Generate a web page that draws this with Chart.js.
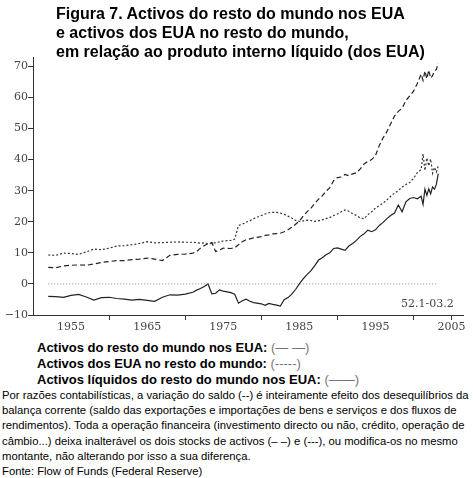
<!DOCTYPE html>
<html>
<head>
<meta charset="utf-8">
<script src="https://cdn.jsdelivr.net/npm/chart.js@4.4.0/dist/chart.umd.min.js"></script>
<style>
  html, body { margin: 0; padding: 0; background: #fff; }
  #wrap { position: relative; width: 473px; height: 478px; overflow: hidden; background: #fff; }
  #c { position: absolute; left: 0; top: 0; }
  .t { position: absolute; white-space: nowrap; }
  #title { left: 56px; top: 4px; font: bold 16px "Liberation Sans", Arial, sans-serif; line-height: 19px; color: #000; }
  #period { left: 401px; top: 297px; font: 11px "DejaVu Serif", serif; color: #444; }
  .leg { left: 37px; font: bold 13px "Liberation Sans", Arial, sans-serif; color: #000; }
  .leg span { font-weight: normal; color: #777; }
  #note { left: 2px; top: 388px; font: 11.3px "Liberation Sans", Arial, sans-serif; line-height: 15.2px; color: #000; }
</style>
</head>
<body>
<div id="wrap">
  <canvas id="c" width="473" height="340"></canvas>
  <div class="t" id="title">Figura 7. Activos do resto do mundo nos EUA<br>e activos dos EUA no resto do mundo,<br>em relação ao produto interno líquido (dos EUA)</div>
  <div class="t" id="period">52.1-03.2</div>
  <div class="t leg" style="top:340px">Activos do resto do mundo nos EUA: <span>(— —)</span></div>
  <div class="t leg" style="top:356px">Activos dos EUA no resto do mundo: <span>(-----)</span></div>
  <div class="t leg" style="top:372px">Activos líquidos do resto do mundo nos EUA: <span>(——)</span></div>
  <div class="t" id="note">Por razões contabilísticas, a variação do saldo (--) é inteiramente efeito dos desequilíbrios da<br>balança corrente (saldo das exportações e importações de bens e serviços e dos fluxos de<br>rendimentos). Toda a operação financeira (investimento directo ou não, crédito, operação de<br>câmbio...) deixa inalterável os dois stocks de activos (– –) e (---), ou modifica-os no mesmo<br>montante, não alterando por isso a sua diferença.<br>Fonte: Flow of Funds (Federal Reserve)</div>
</div>
<script>
// Time points (years, quarterly data sampled)
const years = [1952,1953,1954,1955,1956,1957,1958,1959,1960,1961,1962,1963,1964,1965,1966,1967,1968,1969,1970,1971,1971.5,1972,1972.5,1973,1973.5,1974,1974.5,1975,1976,1976.5,1977,1977.5,1978,1978.5,1979,1980,1980.5,1981,1981.5,1982,1982.5,1983,1983.5,1984,1984.5,1985,1985.5,1986,1986.5,1987,1987.5,1988,1988.5,1989,1989.5,1990,1990.5,1991,1991.5,1992,1992.5,1993,1993.5,1994,1994.5,1995,1995.5,1996,1996.5,1997,1997.5,1998,1998.5,1999,1999.5,2000,2000.5,2001,2001.25,2001.5,2001.75,2002,2002.25,2002.5,2002.75,2003,2003.25];

// Activos do resto do mundo nos EUA (dashed)
const foreignInUS = [5.3,5.2,5.8,6.0,6.1,6.0,6.4,6.9,7.2,7.5,7.5,7.8,8.0,8.3,8.0,7.5,9.2,9.5,9.6,9.9,10.4,11.5,12.3,13.0,13.3,10.4,10.9,11.5,11.4,11.6,12.6,13.6,14.2,14.5,14.8,15.2,15.6,15.8,16.1,16.2,16.3,16.8,17.4,18.2,19.2,20.2,21.8,23.2,24.3,25.8,27.2,28.3,29.8,31.0,33.2,34.2,34.4,35.2,34.8,35.4,35.8,37.0,38.6,39.4,40.0,41.3,44.5,47.0,49.0,51.5,54.0,55.5,56.5,59.0,60.5,62.0,64.5,67.5,65.5,68.5,66.0,68.8,66.2,67.0,68.5,69.0,71.0];

// Activos dos EUA no resto do mundo (dotted)
const usAbroad = [9.3,9.2,9.9,9.8,9.5,10.3,11.2,11.0,11.5,12.2,12.3,12.6,13.0,13.6,13.2,13.3,13.4,13.5,13.4,13.4,13.3,13.1,13.2,12.9,13.0,13.3,13.5,13.8,14.0,14.4,18.8,19.2,19.8,20.3,21.0,22.0,22.5,22.9,23.0,23.0,22.8,22.4,21.8,21.2,20.4,20.1,20.3,20.5,20.4,20.1,20.3,20.6,21.0,21.4,22.0,22.5,23.2,23.8,23.4,22.6,22.0,21.2,21.0,22.3,23.2,24.4,25.2,26.0,27.0,28.2,29.2,30.0,31.2,32.0,32.6,34.0,35.8,36.8,41.8,36.5,40.5,38.0,40.2,35.6,37.5,36.0,38.0];

// Activos líquidos do resto do mundo nos EUA (solid)
const netPosition = [-4.0,-4.1,-4.3,-3.7,-3.4,-4.2,-5.2,-4.4,-4.3,-4.7,-4.9,-5.2,-5.0,-5.3,-5.6,-4.3,-3.5,-3.6,-3.3,-2.7,-2.0,-1.5,-0.8,0.0,-3.2,-3.0,-1.9,-2.3,-2.8,-3.3,-6.2,-5.4,-4.9,-5.6,-6.0,-6.4,-6.9,-6.3,-6.6,-6.8,-7.1,-5.1,-4.4,-3.3,-1.8,0.0,1.6,3.0,4.2,5.8,7.6,8.4,9.4,10.0,11.4,11.6,11.2,10.8,12.2,13.0,14.0,15.3,16.1,17.3,16.8,17.4,18.8,19.8,21.0,22.0,22.8,25.4,23.2,26.4,27.5,27.8,27.4,28.2,25.6,30.5,28.5,30.6,29.0,31.2,30.5,32.0,35.5];

// Zero reference line
const zeroYears = [1952, 2003.25];
const zeroValues = [0, 0];

// Axis ticks
const xTickYears = [1955,1960,1965,1970,1975,1980,1985,1990,1995,2000,2005];
const xLabelYears = [1955,1965,1975,1985,1995,2005];
const xMarkYears = [1960,1970,1980,1990,2000,2005];
const yTicks = [-10,0,10,20,30,40,50,60,70];

const pts = (xs, ys) => xs.map((x, i) => ({ x: x, y: ys[i] }));
const tickFont = { family: "DejaVu Serif", size: 11 };

new Chart(document.getElementById('c'), {
  type: 'line',
  data: {
    datasets: [
      { data: pts(zeroYears, zeroValues), borderColor: '#8a8a8a', borderWidth: 1, borderDash: [1, 2], pointRadius: 0 },
      { data: pts(years, usAbroad), borderColor: '#333', borderWidth: 1.2, borderDash: [2, 2], pointRadius: 0 },
      { data: pts(years, foreignInUS), borderColor: '#222', borderWidth: 1.2, borderDash: [5, 3], pointRadius: 0 },
      { data: pts(years, netPosition), borderColor: '#222', borderWidth: 1.2, pointRadius: 0 }
    ]
  },
  options: {
    responsive: false,
    animation: false,
    events: [],
    layout: { padding: { left: 0, right: 10, top: 57, bottom: 0 } },
    plugins: { legend: { display: false }, tooltip: { enabled: false }, title: { display: false } },
    scales: {
      x: {
        type: 'linear', min: 1950, max: 2006.5,
        afterBuildTicks: s => { s.ticks = xTickYears.map(v => ({ value: v })); },
        afterFit: s => { s.height = 25; },
        border: { display: true, color: '#333', width: 1 },
        grid: {
          drawOnChartArea: false, drawTicks: true, tickLength: 5,
          tickColor: ctx => (ctx.tick && xMarkYears.includes(ctx.tick.value)) ? '#333' : 'rgba(0,0,0,0)'
        },
        ticks: {
          font: tickFont, color: '#444', padding: 1, maxRotation: 0, autoSkip: false,
          callback: v => xLabelYears.includes(v) ? String(v) : ''
        }
      },
      y: {
        type: 'linear', min: -10, max: 73,
        afterBuildTicks: s => { s.ticks = yTicks.map(v => ({ value: v })); },
        afterFit: s => { s.width = 33; },
        border: { display: true, color: '#333', width: 1 },
        grid: { drawOnChartArea: false, drawTicks: true, tickLength: 5, tickColor: '#333' },
        ticks: {
          font: tickFont, color: '#444', padding: 0,
          callback: v => v < 0 ? '\u2212' + Math.abs(v) : String(v)
        }
      }
    }
  }
});
</script>
</body>
</html>
